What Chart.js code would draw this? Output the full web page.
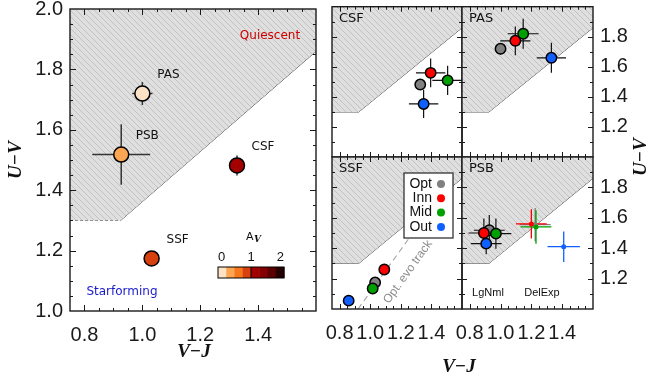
<!DOCTYPE html>
<html>
<head>
<meta charset="utf-8">
<script src="https://cdn.jsdelivr.net/npm/chart.js@4.4.1/dist/chart.umd.min.js"></script>
<style>
html, body { margin: 0; padding: 0; background: #fff; }
#wrap { position: relative; width: 651px; height: 379px; }
#wrap canvas { position: absolute; left: 0; top: 0; }
</style>
</head>
<body>
<div id="wrap">
  <canvas id="main" width="651" height="379"></canvas>
  <canvas id="csf" width="651" height="379"></canvas>
  <canvas id="pas" width="651" height="379"></canvas>
  <canvas id="ssf" width="651" height="379"></canvas>
  <canvas id="psb" width="651" height="379"></canvas>
</div>
<script>
// ---- data ----
const classes = ['PAS', 'PSB', 'CSF', 'SSF'];
const classVJ = [1.00, 0.927, 1.327, 1.032];
const classUV = [1.72, 1.518, 1.482, 1.174];
const classErrVJ = [0.035, 0.10, 0.026, 0.02];
const classErrUV = [0.038, 0.10, 0.033, 0.02];
const classAv = [0.1, 0.4, 1.1, 0.85];

const avColors = ['#fde2c6', '#fca552', '#f5781f', '#d8400e', '#a30000', '#850000', '#5a0000', '#250000'];
const avTicks = [0, 1, 2];

const regions = ['Opt', 'Inn', 'Mid', 'Out'];
const regionColors = ['#808080', '#ff0000', '#00a000', '#1060ff'];

const csfVJ = [1.327, 1.395, 1.506, 1.349];
const csfUV = [1.482, 1.56, 1.51, 1.353];
const csfErrVJ = [0.026, 0.096, 0.10, 0.096];
const csfErrUV = [0.033, 0.096, 0.097, 0.094];

const pasVJ = [1.00, 1.096, 1.147, 1.33];
const pasUV = [1.72, 1.773, 1.82, 1.66];
const pasErrVJ = [0.035, 0.098, 0.10, 0.095];
const pasErrUV = [0.038, 0.096, 0.10, 0.10];

const ssfVJ = [1.032, 1.092, 1.016, 0.859];
const ssfUV = [1.174, 1.26, 1.135, 1.055];

const psbVJ = [0.927, 0.892, 0.97, 0.907];
const psbUV = [1.518, 1.50, 1.496, 1.43];
const psbErrVJ = [0.10, 0.10, 0.10, 0.10];
const psbErrUV = [0.10, 0.095, 0.10, 0.07];
const psbDelVJ = [1.225, 1.20, 1.23, 1.41];
const psbDelUV = [1.555, 1.56, 1.54, 1.41];
const psbDelErrVJ = [0.10, 0.10, 0.10, 0.105];
const psbDelErrUV = [0.11, 0.097, 0.11, 0.10];

const evoVJ = [0.92, 1.25];
const evoUV = [1.0, 1.46];

// quiescent selection box edge
const boxVJ = [0.75, 0.925, 1.6];
const boxUV = [1.3, 1.3, 1.86];

const vjRange = [0.75, 1.6];
const uvRange = [1.0, 2.0];
const vjTicks = [0.8, 1.0, 1.2, 1.4];
const uvTicksMain = [1.0, 1.2, 1.4, 1.6, 1.8, 2.0];
const uvTicksPanel = [1.2, 1.4, 1.6, 1.8];

// ---- helpers ----
const pts = (xs, ys) => xs.map((v, i) => ({ x: v, y: ys[i] }));
const avColor = av => avColors[Math.min(avColors.length - 1, Math.floor(av / 0.25))];
const tickFont = { family: 'Liberation Sans', size: 20 };

function hatch() {
  const c = document.createElement('canvas');
  c.width = 6; c.height = 6;
  const g = c.getContext('2d');
  g.fillStyle = '#dfdfdf';
  g.fillRect(0, 0, 6, 6);
  g.strokeStyle = '#c2c2c2';
  g.lineWidth = 1;
  g.beginPath();
  g.moveTo(0, 0); g.lineTo(6, 6);
  g.moveTo(-3, 3); g.lineTo(3, 9);
  g.moveTo(3, -3); g.lineTo(9, 3);
  g.stroke();
  return g.createPattern(c, 'repeat');
}
const hatchFill = hatch();

function axis(pos, ticks, show, size) {
  const horiz = pos === 'bottom' || pos === 'top';
  const range = horiz ? vjRange : uvRange;
  return {
    type: 'linear', position: pos,
    min: range[0], max: range[1],
    display: show,
    grid: { display: false, drawTicks: false },
    border: { display: false },
    ticks: {
      font: tickFont, color: '#1a1a1a', padding: horiz ? 12 : 7,
      autoSkip: false, maxRotation: 0, minRotation: 0,
      callback: v => v.toFixed(1)
    },
    afterBuildTicks: s => { s.ticks = ticks.map(v => ({ value: v })); },
    afterFit: s => {
      if (horiz) s.height = size; else s.width = size;
      s.paddingLeft = s.paddingRight = s.paddingTop = s.paddingBottom = 0;
    }
  };
}

// hatched region above the selection edge, plus its outline
function quiescentBox(dashedFloor) {
  return [
    {
      type: 'line', data: pts(boxVJ, boxUV), showLine: true,
      pointRadius: 0, borderWidth: 0, borderColor: 'rgba(0,0,0,0)',
      backgroundColor: hatchFill, fill: 'end'
    },
    {
      type: 'line', data: pts(boxVJ, boxUV), showLine: true,
      pointRadius: 0, borderColor: '#333', borderWidth: 1, fill: false,
      segment: { borderDash: c => (dashedFloor && c.p0DataIndex === 0) ? [3, 2] : undefined }
    }
  ];
}

function scatterSet(xs, ys, ex, ey, radius, colors, errColor, errWidth) {
  return {
    data: pts(xs, ys), errX: ex, errY: ey, errColor, errWidth,
    pointRadius: radius, pointBackgroundColor: colors,
    pointBorderColor: '#000', pointBorderWidth: 1.5
  };
}

// error bars go under the points of the dataset they belong to
const errorBars = {
  id: 'errorBars',
  beforeDatasetDraw(chart, args) {
    const ds = chart.data.datasets[args.index];
    if (!ds.errX) return;
    const { ctx, scales: { x, y } } = chart;
    ctx.save();
    ctx.lineWidth = ds.errWidth || 1.2;
    ds.data.forEach((p, i) => {
      ctx.strokeStyle = Array.isArray(ds.errColor) ? ds.errColor[i] : ds.errColor;
      ctx.beginPath();
      ctx.moveTo(x.getPixelForValue(p.x - ds.errX[i]), y.getPixelForValue(p.y));
      ctx.lineTo(x.getPixelForValue(p.x + ds.errX[i]), y.getPixelForValue(p.y));
      ctx.moveTo(x.getPixelForValue(p.x), y.getPixelForValue(p.y - ds.errY[i]));
      ctx.lineTo(x.getPixelForValue(p.x), y.getPixelForValue(p.y + ds.errY[i]));
      ctx.stroke();
    });
    ctx.restore();
  }
};

// plot box with inward major/minor ticks on every side
function drawFrame(chart, stepX, stepY, major, minor) {
  const { ctx, chartArea: a } = chart;
  const x = chart.scales.x, y = chart.scales.y;
  const isMajor = v => Math.abs(v * 5 - Math.round(v * 5)) < 1e-6;
  ctx.save();
  ctx.setLineDash([]);
  ctx.fillStyle = '#1a1a1a';
  const nx = Math.round((vjRange[1] - vjRange[0]) / stepX);
  for (let i = 1; i < nx; i++) {
    const v = vjRange[0] + i * stepX;
    const len = isMajor(v) ? major : minor;
    const px = Math.round(x.getPixelForValue(v));
    ctx.fillRect(px, a.bottom - len, 1, len);
    ctx.fillRect(px, a.top, 1, len);
  }
  const ny = Math.round((uvRange[1] - uvRange[0]) / stepY);
  for (let i = 1; i < ny; i++) {
    const v = uvRange[0] + i * stepY;
    const len = isMajor(v) ? major : minor;
    const py = Math.round(y.getPixelForValue(v));
    ctx.fillRect(a.left, py, len, 1);
    ctx.fillRect(a.right - len, py, len, 1);
  }
  ctx.strokeStyle = '#1a1a1a';
  ctx.lineWidth = 1.4;
  ctx.strokeRect(a.left, a.top, a.right - a.left, a.bottom - a.top);
  ctx.restore();
}

function text(ctx, s, px, py, font, color, align) {
  ctx.font = font;
  ctx.fillStyle = color;
  ctx.textAlign = align || 'center';
  ctx.textBaseline = 'middle';
  ctx.fillText(s, px, py);
}

function baseOptions(padding, scales) {
  return {
    responsive: false, animation: false, events: [],
    layout: { padding },
    scales,
    plugins: { legend: { display: false }, tooltip: { enabled: false } }
  };
}

// ---- left: class averages coloured by A_V ----
new Chart(document.getElementById('main'), {
  type: 'scatter',
  data: {
    datasets: [
      scatterSet(classVJ, classUV, classErrVJ, classErrUV, 7.5, classAv.map(avColor), '#333', 1.5),
      ...quiescentBox(true)
    ]
  },
  options: baseOptions({ left: 25, right: 335, top: 6, bottom: 38 },
    { x: axis('bottom', vjTicks, true, 30), y: axis('left', uvTicksMain, true, 45) }),
  plugins: [errorBars, {
    id: 'mainText',
    afterDraw(chart) {
      drawFrame(chart, 0.05, 0.05, 6, 3);
      const { ctx, chartArea: a, scales: { x, y } } = chart;
      ctx.save();
      classes.forEach((c, i) => {
        text(ctx, c, x.getPixelForValue(classVJ[i]) + 26, y.getPixelForValue(classUV[i]) - 19,
          '12px "DejaVu Sans"', '#111');
      });
      text(ctx, 'Quiescent', a.right - 46, a.top + 27, '12px "DejaVu Sans"', '#cc0000');
      text(ctx, 'Starforming', a.left + 52, a.bottom - 19, '12px "DejaVu Sans"', '#1a1acc');

      // A_V colour bar
      const cx = a.left + 148, cy = a.bottom - 44, cw = 66, ch = 11;
      const cell = cw / avColors.length;
      avColors.forEach((col, i) => {
        ctx.fillStyle = col;
        ctx.fillRect(cx + i * cell, cy, cell + 0.5, ch);
      });
      ctx.strokeStyle = '#000';
      ctx.lineWidth = 1;
      ctx.strokeRect(cx, cy, cw, ch);
      const cbX = v => cx + (v + 0.12) / 2.24 * cw;
      ctx.beginPath();
      ctx.moveTo(cbX(1), cy); ctx.lineTo(cbX(1), cy + ch);
      ctx.stroke();
      avTicks.forEach(v => text(ctx, String(v), cbX(v), cy - 10, '13px "Liberation Sans"', '#111'));
      text(ctx, 'A', cx + 28, cy - 30, '11px "DejaVu Sans"', '#111', 'left');
      text(ctx, 'V', cx + 36, cy - 27, 'italic bold 9px "DejaVu Serif"', '#111', 'left');

      // axis titles
      text(ctx, 'V\u2212J', 194, 352, 'italic bold 19px "Liberation Serif"', '#111');
      ctx.save();
      ctx.translate(16, 160);
      ctx.rotate(-Math.PI / 2);
      text(ctx, 'U\u2212V', 0, 0, 'italic bold 19px "Liberation Serif"', '#111');
      ctx.restore();
      ctx.restore();
    }
  }]
});

// ---- right: radial bins for each class ----
function panelDecor(name, extra) {
  return {
    id: 'decor' + name,
    afterDraw(chart) {
      drawFrame(chart, 0.05, 0.1, 5, 3);
      const { ctx, chartArea: a } = chart;
      ctx.save();
      text(ctx, name, a.left + 7, a.top + 12, '13px "DejaVu Sans"', '#111', 'left');
      ctx.restore();
      if (extra) extra(chart);
    }
  };
}

new Chart(document.getElementById('csf'), {
  type: 'scatter',
  data: {
    datasets: [
      scatterSet(csfVJ, csfUV, csfErrVJ, csfErrUV, 5.2, regionColors, '#111', 1.2),
      ...quiescentBox(false)
    ]
  },
  options: baseOptions({ left: 332, right: 189, top: 6, bottom: 222 },
    { x: axis('bottom', vjTicks, false, 0), y: axis('left', uvTicksPanel, false, 0) }),
  plugins: [errorBars, panelDecor('CSF')]
});

new Chart(document.getElementById('pas'), {
  type: 'scatter',
  data: {
    datasets: [
      scatterSet(pasVJ, pasUV, pasErrVJ, pasErrUV, 5.2, regionColors, '#111', 1.2),
      ...quiescentBox(false)
    ]
  },
  options: baseOptions({ left: 462, right: 8, top: 6, bottom: 222 },
    { x: axis('bottom', vjTicks, false, 0), y: axis('right', uvTicksPanel, true, 50) }),
  plugins: [errorBars, panelDecor('PAS')]
});

new Chart(document.getElementById('ssf'), {
  type: 'scatter',
  data: {
    datasets: [
      scatterSet(ssfVJ, ssfUV, null, null, 5.2, regionColors),
      {
        type: 'line', data: pts(evoVJ, evoUV), showLine: true, pointRadius: 0,
        borderColor: '#aaaaaa', borderWidth: 1.2, borderDash: [6, 4], fill: false
      },
      ...quiescentBox(false)
    ]
  },
  options: baseOptions({ left: 332, right: 189, top: 157, bottom: 40 },
    { x: axis('bottom', vjTicks, true, 30), y: axis('left', uvTicksPanel, false, 0) }),
  plugins: [errorBars, panelDecor('SSF', chart => {
    const { ctx, chartArea: a, scales: { x, y } } = chart;
    ctx.save();
    // label along the evolution track
    const ang = Math.atan2(y.getPixelForValue(evoUV[1]) - y.getPixelForValue(evoUV[0]),
      x.getPixelForValue(evoVJ[1]) - x.getPixelForValue(evoVJ[0]));
    ctx.translate(a.left + 76, a.top + 115);
    ctx.rotate(ang);
    text(ctx, 'Opt. evo track', 0, 0, '12px "Liberation Sans"', '#8c8c8c');
    ctx.restore();

    // legend box for the radial bins
    const lx = a.left + 72, ly = a.top + 16;
    ctx.save();
    ctx.fillStyle = '#fff';
    ctx.fillRect(lx, ly, 49, 65);
    ctx.strokeStyle = '#333';
    ctx.lineWidth = 1.3;
    ctx.strokeRect(lx, ly, 49, 65);
    regions.forEach((r, i) => {
      const ry = ly + 11 + i * 14.3;
      text(ctx, r, lx + 28, ry, '14px "Liberation Sans"', '#111', 'right');
      ctx.fillStyle = regionColors[i];
      ctx.beginPath();
      ctx.arc(lx + 37, ry, 4, 0, Math.PI * 2);
      ctx.fill();
    });
    // shared x title under both columns
    text(ctx, 'V\u2212J', 459, 367, 'italic bold 19px "Liberation Serif"', '#111');
    ctx.restore();
  })]
});

new Chart(document.getElementById('psb'), {
  type: 'scatter',
  data: {
    datasets: [
      scatterSet(psbVJ, psbUV, psbErrVJ, psbErrUV, 5.2, regionColors, '#111', 1.2),
      {
        data: pts(psbDelVJ, psbDelUV), errX: psbDelErrVJ, errY: psbDelErrUV,
        errColor: regionColors, errWidth: 1.3,
        pointRadius: 2.5, pointBackgroundColor: regionColors, pointBorderWidth: 0
      },
      ...quiescentBox(false)
    ]
  },
  options: baseOptions({ left: 462, right: 8, top: 157, bottom: 40 },
    { x: axis('bottom', vjTicks, true, 30), y: axis('right', uvTicksPanel, true, 50) }),
  plugins: [errorBars, panelDecor('PSB', chart => {
    const { ctx, chartArea: a } = chart;
    ctx.save();
    text(ctx, 'LgNml', a.left + 26, a.bottom - 16, '11px "Liberation Sans"', '#111');
    text(ctx, 'DelExp', a.left + 80, a.bottom - 16, '11px "Liberation Sans"', '#111');
    ctx.translate(641, 157);
    ctx.rotate(-Math.PI / 2);
    text(ctx, 'U\u2212V', 0, 0, 'italic bold 19px "Liberation Serif"', '#111');
    ctx.restore();
  })]
});
</script>
</body>
</html>
